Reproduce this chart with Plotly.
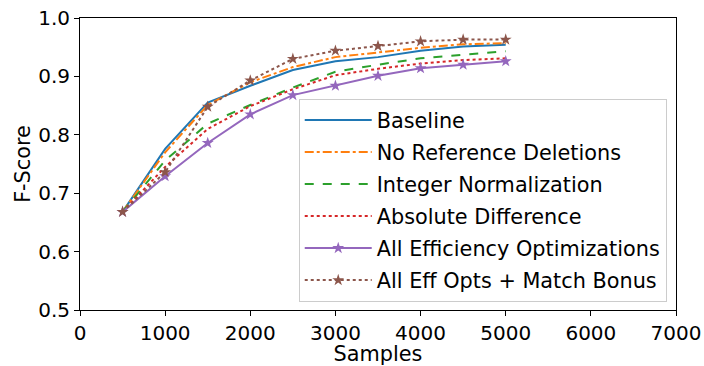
import plotly.graph_objects as go

samples = [500, 1000, 1500, 2000, 2500, 3000, 3500, 4000, 4500, 5000]
baseline = [0.668, 0.776, 0.855, 0.884, 0.911, 0.926, 0.933, 0.944, 0.951, 0.954]
no_ref_del = [0.668, 0.770, 0.851, 0.890, 0.916, 0.933, 0.941, 0.949, 0.955, 0.957]
int_norm = [0.668, 0.756, 0.819, 0.851, 0.881, 0.908, 0.920, 0.931, 0.937, 0.943]
abs_diff = [0.668, 0.745, 0.810, 0.849, 0.878, 0.902, 0.913, 0.922, 0.928, 0.931]
all_eff = [0.668, 0.729, 0.786, 0.835, 0.868, 0.884, 0.901, 0.914, 0.920, 0.926]
all_eff_bonus = [0.668, 0.736, 0.848, 0.893, 0.930, 0.944, 0.952, 0.960, 0.963, 0.963]

names = ["Baseline", "No Reference Deletions", "Integer Normalization",
         "Absolute Difference", "All Efficiency Optimizations", "All Eff Opts + Match Bonus"]
series = [baseline, no_ref_del, int_norm, abs_diff, all_eff, all_eff_bonus]
colors = ["#1f77b4", "#ff7f0e", "#2ca02c", "#d62728", "#9467bd", "#8c564b"]
dashes = ["solid", "dashdot", "dash", "dot", "solid", "dot"]
markers = [False, False, False, False, True, True]

fig = go.Figure()
for i, (n, s, c, d, m) in enumerate(zip(names, series, colors, dashes, markers)):
    fig.add_trace(go.Scatter(
        x=samples, y=s, name=n, legendgroup=f"g{i}",
        mode="lines+markers" if m else "lines",
        line=dict(color=c, width=2, dash=d),
        marker=dict(symbol="star", size=9, color=c) if m else None,
    ))

FS = 20.8
font = dict(family="DejaVu Sans", size=FS, color="black")
tfont = dict(family="DejaVu Sans", size=20, color="black")
fig.update_layout(
    width=704, height=366,
    margin=dict(l=79.5, r=27.7, t=18.4, b=55.8),
    plot_bgcolor="white", paper_bgcolor="white",
    font=font,
    showlegend=True,
    legend=dict(
        x=0.367, y=0.723, xanchor="left", yanchor="top",
        bgcolor="rgba(255,255,255,0.8)", bordercolor="#cccccc", borderwidth=1,
        font=font, itemwidth=67,
        tracegroupgap=2,
    ),
)
fig.update_xaxes(
    range=[0, 7000], tickvals=[0, 1000, 2000, 3000, 4000, 5000, 6000, 7000],
    showgrid=False, zeroline=False, showline=True, mirror=True, linecolor="black", linewidth=1,
    ticks="outside", ticklen=5, tickcolor="black", tickfont=tfont,
    ticklabeloverflow="allow", automargin=False,
    title=dict(text="Samples", font=font),
)
fig.update_yaxes(
    range=[0.5, 1.0], tickvals=[0.5, 0.6, 0.7, 0.8, 0.9, 1.0], tickformat=".1f",
    showgrid=False, zeroline=False, showline=True, mirror=True, linecolor="black", linewidth=1,
    ticks="outside", ticklen=5, tickcolor="black", tickfont=tfont,
    ticklabeloverflow="allow", automargin=False,
    title=dict(text="F-Score", standoff=1, font=font),
)
fig.write_html("out.html")
